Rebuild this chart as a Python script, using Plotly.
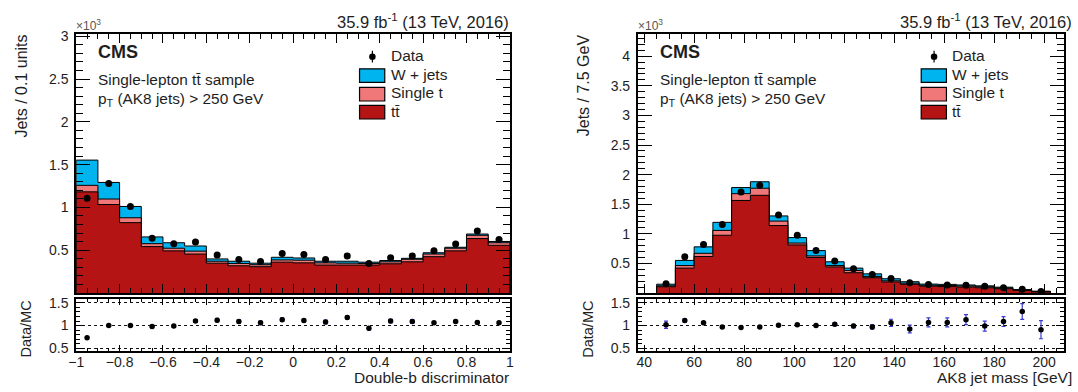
import numpy as np
import plotly.graph_objects as go

# ---------------- data (values in units of 10^3 jets) ----------------
# Left: double-b discriminator, 20 bins from -1 to 1
db_edges = [-1.0, -0.9, -0.8, -0.7, -0.6, -0.5, -0.4, -0.3, -0.2, -0.1, 0.0,
            0.1, 0.2, 0.3, 0.4, 0.5, 0.6, 0.7, 0.8, 0.9, 1.0]
db_ttbar = [1.182, 1.034, 0.822, 0.542, 0.492, 0.455, 0.348, 0.318, 0.307, 0.360,
            0.352, 0.326, 0.326, 0.326, 0.341, 0.364, 0.424, 0.492, 0.636, 0.557]
db_singlet = [0.076, 0.064, 0.057, 0.034, 0.031, 0.034, 0.023, 0.027, 0.023, 0.026,
              0.031, 0.026, 0.022, 0.019, 0.023, 0.030, 0.031, 0.031, 0.038, 0.030]
db_wjets = [0.295, 0.194, 0.132, 0.079, 0.064, 0.060, 0.027, 0.026, 0.018, 0.031,
            0.026, 0.019, 0.023, 0.015, 0.015, 0.011, 0.015, 0.011, 0.015, 0.015]
db_data = [1.106, 1.280, 1.011, 0.640, 0.576, 0.595, 0.443, 0.390, 0.367, 0.462,
           0.451, 0.390, 0.432, 0.345, 0.413, 0.432, 0.492, 0.572, 0.723, 0.625]
db_data_err = [0.035, 0.036, 0.032, 0.025, 0.024, 0.024, 0.021, 0.020, 0.019, 0.021,
               0.021, 0.020, 0.021, 0.019, 0.020, 0.021, 0.022, 0.024, 0.027, 0.025]
db_ratio = [0.73, 1.00, 1.00, 0.98, 0.99, 1.10, 1.12, 1.09, 1.06, 1.13,
            1.11, 1.08, 1.18, 0.94, 1.10, 1.09, 1.06, 1.09, 1.07, 1.06]
db_ratio_err = [0.02, 0.02, 0.02, 0.03, 0.03, 0.03, 0.04, 0.04, 0.04, 0.04,
                0.04, 0.04, 0.04, 0.04, 0.04, 0.04, 0.03, 0.03, 0.03, 0.03]
db_tickvals = [-1, -0.8, -0.6, -0.4, -0.2, 0, 0.2, 0.4, 0.6, 0.8, 1]
db_ticktext = ["\u22121", "\u22120.8", "\u22120.6", "\u22120.4", "\u22120.2", "0",
               "0.2", "0.4", "0.6", "0.8", "1"]

# Right: AK8 jet mass, 21 bins of 7.5 GeV from 45 to 202.5
m_edges = [45.0, 52.5, 60.0, 67.5, 75.0, 82.5, 90.0, 97.5, 105.0, 112.5, 120.0,
           127.5, 135.0, 142.5, 150.0, 157.5, 165.0, 172.5, 180.0, 187.5, 195.0, 202.5]
m_ttbar = [0.105, 0.420, 0.616, 0.975, 1.563, 1.650, 1.139, 0.812, 0.600, 0.440, 0.342,
           0.257, 0.186, 0.147, 0.115, 0.108, 0.100, 0.088, 0.072, 0.040, 0.018]
m_singlet = [0.015, 0.043, 0.054, 0.082, 0.115, 0.120, 0.075, 0.032, 0.026, 0.023, 0.038,
             0.023, 0.019, 0.018, 0.015, 0.017, 0.018, 0.017, 0.013, 0.010, 0.007]
m_wjets = [0.028, 0.087, 0.109, 0.136, 0.103, 0.109, 0.088, 0.092, 0.090, 0.064, 0.040,
           0.043, 0.035, 0.025, 0.020, 0.020, 0.017, 0.015, 0.013, 0.008, 0.005]
m_data = [0.155, 0.610, 0.817, 1.155, 1.705, 1.820, 1.318, 0.975, 0.716, 0.538, 0.408,
          0.310, 0.245, 0.172, 0.145, 0.135, 0.132, 0.113, 0.090, 0.062, 0.025]
m_data_err = [0.012, 0.025, 0.029, 0.034, 0.041, 0.043, 0.036, 0.031, 0.027, 0.023, 0.020,
              0.018, 0.016, 0.013, 0.012, 0.012, 0.011, 0.011, 0.009, 0.008, 0.005]
m_ratio = [1.02, 1.11, 1.06, 0.97, 0.96, 0.97, 1.01, 1.02, 1.00, 1.03, 0.99,
           0.97, 1.06, 0.925, 1.07, 1.07, 1.13, 0.99, 1.09, 1.31, 0.91]
m_ratio_err = [0.08, 0.04, 0.03, 0.02, 0.02, 0.02, 0.02, 0.025, 0.025, 0.03, 0.04,
               0.05, 0.08, 0.085, 0.10, 0.10, 0.11, 0.11, 0.11, 0.175, 0.20]
m_tickvals = [40, 60, 80, 100, 120, 140, 160, 180, 200]

main_ytick_L = [0.5, 1, 1.5, 2, 2.5, 3]
main_ytick_R = [0.5, 1, 1.5, 2, 2.5, 3, 3.5, 4]
ratio_ytick = [0.5, 1, 1.5]

# ---------------- styling ----------------
W, H = 1078, 392
FONT = "Liberation Sans, Arial, Helvetica, sans-serif"
TXT = "#1e1e1e"
C_W = "#00b4f0"
C_ST = "#f07878"
C_TT = "#b41414"


def fx(px):
    return px / W


def fy(py):
    return 1 - py / H


MAIN_TOP, MAIN_BOT = 29.5, 295.5
RAT_TOP, RAT_BOT = 302.0, 355.5
L_X0, L_X1 = 69.0, 507.5
R_X0, R_X1 = 637.0, 1068.0

fig = go.Figure()


def step_xy(edges, vals):
    e = list(edges)
    v = list(vals)
    xs = [e[0]] + e[:-1] + [e[-1], e[-1]]
    ys = [0] + v + [v[-1], 0]
    return xs, ys


def add_stack(edges, tt, st, wj, data, derr, xa, ya):
    tt = np.array(tt)
    cum_st = tt + np.array(st)
    total = cum_st + np.array(wj)
    for vals, col in [(total, C_W), (cum_st, C_ST), (tt, C_TT)]:
        xs, ys = step_xy(edges, vals)
        fig.add_trace(go.Scatter(x=xs, y=ys, mode="lines", line_shape="hv",
                                 line=dict(color="black", width=1),
                                 fill="tozeroy", fillcolor=col,
                                 xaxis=xa, yaxis=ya, showlegend=False,
                                 hoverinfo="skip"))
    e = np.array(edges)
    centers = 0.5 * (e[:-1] + e[1:])
    fig.add_trace(go.Scatter(x=centers, y=data, mode="markers",
                             marker=dict(color="black", size=7),
                             error_y=dict(type="data", array=derr, color="black",
                                          thickness=1.2, width=0),
                             xaxis=xa, yaxis=ya, showlegend=False))


def add_ratio(edges, ratio, rerr, xa, ya):
    e = np.array(edges)
    centers = 0.5 * (e[:-1] + e[1:])
    fig.add_trace(go.Scatter(x=centers, y=ratio, mode="markers",
                             marker=dict(color="black", size=5.5),
                             error_y=dict(type="data", array=rerr, color="#3a3ad0",
                                          thickness=1.2, width=2),
                             xaxis=xa, yaxis=ya, showlegend=False))


add_stack(db_edges, db_ttbar, db_singlet, db_wjets, db_data, db_data_err, "x", "y")
add_ratio(db_edges, db_ratio, db_ratio_err, "x2", "y2")
add_stack(m_edges, m_ttbar, m_singlet, m_wjets, m_data, m_data_err, "x3", "y3")
add_ratio(m_edges, m_ratio, m_ratio_err, "x4", "y4")

common = dict(showline=True, linecolor="black", linewidth=2, mirror="allticks",
              ticks="inside", tickcolor="black", tickwidth=1, zeroline=False,
              showgrid=False, tickfont=dict(family=FONT, size=14, color=TXT))


def xax(domain, rng, tickvals, ticktext, minor_dtick, tick0, show, anchor, ticklen, mlen):
    d = dict(common)
    d.update(domain=[fx(domain[0]), fx(domain[1])], range=rng, anchor=anchor,
             tickmode="array", tickvals=tickvals, ticktext=ticktext,
             showticklabels=show, ticklen=ticklen,
             minor=dict(ticks="inside", tickmode="linear", tick0=tick0,
                        dtick=minor_dtick, ticklen=mlen, tickcolor="black",
                        tickwidth=1, showgrid=False))
    if show:
        d.update(ticklabelstandoff=-3)
    return d


def yax(top, bot, rng, tickvals, minor_dtick, anchor, ticklen, mlen, grid=False):
    d = dict(common)
    d.update(domain=[fy(bot), fy(top)], range=rng, anchor=anchor,
             tickmode="array", tickvals=tickvals, ticklen=ticklen,
             ticklabelstandoff=3,
             minor=dict(ticks="inside", tickmode="linear", tick0=0,
                        dtick=minor_dtick, ticklen=mlen, tickcolor="black",
                        tickwidth=1, showgrid=False))
    if grid:
        d.update(showgrid=True, gridcolor="#111111", gridwidth=1, griddash="dot")
    return d


L_rng = [-1, 1]
R_rng = [37.5, 208]

fig.update_layout(
    width=W, height=H, margin=dict(l=0, r=0, t=0, b=0),
    paper_bgcolor="white", plot_bgcolor="white", showlegend=False,
    xaxis=xax((L_X0, L_X1), L_rng, db_tickvals, db_ticktext, 0.05, -1, False, "y", 9, 5),
    yaxis=yax(MAIN_TOP, MAIN_BOT, [0, 3.03], main_ytick_L, 0.1, "x", 14, 7),
    xaxis2=xax((L_X0, L_X1), L_rng, db_tickvals, db_ticktext, 0.05, -1, True, "y2", 6, 3),
    yaxis2=yax(RAT_TOP, RAT_BOT, [0.43, 1.58], ratio_ytick, 0.1, "x2", 8, 4, grid=True),
    xaxis3=xax((R_X0, R_X1), R_rng, m_tickvals, [str(v) for v in m_tickvals], 5, 40, False, "y3", 9, 5),
    yaxis3=yax(MAIN_TOP, MAIN_BOT, [0, 4.38], main_ytick_R, 0.1, "x3", 14, 7),
    xaxis4=xax((R_X0, R_X1), R_rng, m_tickvals, [str(v) for v in m_tickvals], 5, 40, True, "y4", 6, 3),
    yaxis4=yax(RAT_TOP, RAT_BOT, [0.43, 1.58], ratio_ytick, 0.1, "x4", 8, 4, grid=True),
)

ann = []
shapes = []


def text(x, y, s, size, xanchor="left", yanchor="middle", angle=0, bold=False, color=TXT):
    if bold:
        s = "<b>" + s + "</b>"
    ann.append(dict(x=fx(x), y=fy(y), xref="paper", yref="paper", text=s,
                    showarrow=False, xanchor=xanchor, yanchor=yanchor,
                    textangle=angle, borderpad=0,
                    font=dict(family=FONT, size=size, color=color)))


for off, frame_left, lumi_right, ytitle, ytx, xtitle, xt_right in [
        (0, L_X0, 507.5, "Jets / 0.1 units", 13.5, "Double-b discriminator", 507.5),
        (568, R_X0, 1077, "Jets / 7.5 GeV", 582, "AK8 jet mass [GeV]", 1077)]:
    text(lumi_right, 16, "35.9 fb<sup>-1</sup> (13 TeV, 2016)", 16.5, xanchor="right")
    text(frame_left - 1, 21, "\u00d710<sup>3</sup>", 12, color="#555555")
    text(90 + off, 48, "CMS", 18, bold=True)
    text(90 + off, 76, "Single-lepton tt\u0304 sample", 15.4)
    text(90 + off, 97, "p<sub>T</sub> (AK8 jets) > 250 GeV", 15.4)
    # legend
    text(386 + off, 52, "Data", 15.5)
    text(386 + off, 71, "W + jets", 15.5)
    text(386 + off, 90, "Single t", 15.5)
    text(386 + off, 109, "tt\u0304", 15.5)
    for (y0, y1, col) in [(65.5, 79.5, C_W), (84.5, 98.5, C_ST), (103, 117, C_TT)]:
        shapes.append(dict(type="rect", xref="paper", yref="paper",
                           x0=fx(355.5 + off), x1=fx(381 + off), y0=fy(y1), y1=fy(y0),
                           fillcolor=col, line=dict(color="black", width=1.2)))
    cx = 368.5 + off
    shapes.append(dict(type="line", xref="paper", yref="paper",
                       x0=fx(cx), x1=fx(cx), y0=fy(59), y1=fy(47),
                       line=dict(color="black", width=1.2)))
    shapes.append(dict(type="circle", xref="paper", yref="paper",
                       x0=fx(cx - 3.3), x1=fx(cx + 3.3), y0=fy(56.3), y1=fy(49.7),
                       fillcolor="black", line=dict(color="black", width=0)))
    # axis titles
    text(ytx, MAIN_TOP, ytitle, 16, xanchor="center", yanchor="top", angle=-90)
    text(ytx + 4.5, RAT_TOP, "Data/MC", 14.5, xanchor="center", yanchor="top", angle=-90)
    text(xt_right, 382.5, xtitle, 15.5, xanchor="right")

fig.update_layout(annotations=ann, shapes=shapes)
fig.write_html("out.html", config={"displayModeBar": False},
               post_script="document.body.style.margin='0';document.body.style.overflow='hidden';")
